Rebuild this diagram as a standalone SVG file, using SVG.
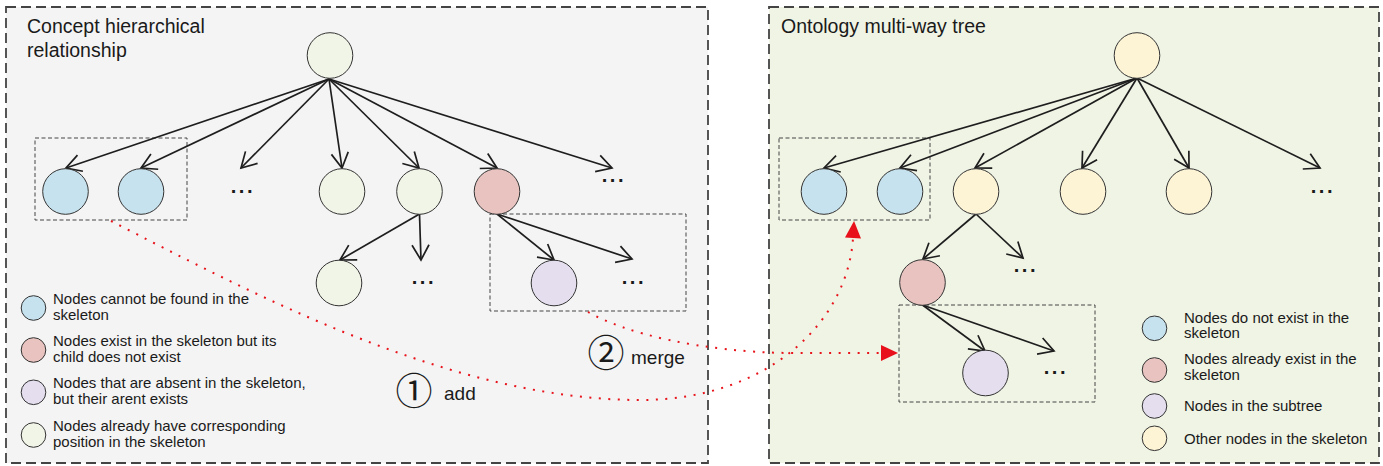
<svg xmlns="http://www.w3.org/2000/svg" width="1383" height="466" viewBox="0 0 1383 466">
  <defs>
    <style>
      .panel { stroke: #444; stroke-width: 1.8; stroke-dasharray: 10 5; }
      .box { fill: none; stroke: #444; stroke-width: 1; stroke-dasharray: 4 2.5; }
      .node { stroke: #333; stroke-width: 1; }
      .blue { fill: #c6e2ee; }
      .pink { fill: #e8c3bf; }
      .purple { fill: #e4deee; }
      .green { fill: #f1f5e7; }
      .yellow { fill: #fdf4d6; }
      .edge { fill: none; stroke: #1e1e1e; stroke-width: 1.7; marker-end: url(#open); }
      .flow { fill: none; stroke: #e8141c; stroke-width: 2; stroke-dasharray: 2 7.5; marker-end: url(#solid); }
      .title { font-family: "Liberation Sans", Arial, sans-serif; font-size: 19.5px; fill: #1a1a1a; }
      .legend { font-family: "Liberation Sans", Arial, sans-serif; font-size: 15px; fill: #1a1a1a; }
      .step { font-family: "Liberation Sans", Arial, sans-serif; font-size: 19px; fill: #1a1a1a; }
      .num { font-family: "DejaVu Serif", "Noto Sans CJK SC", serif; font-size: 37px; fill: #1a1a1a; }
      .dots { font-family: "DejaVu Sans", sans-serif; font-size: 16px; font-weight: bold; letter-spacing: 2px; fill: #1a1a1a; }
    </style>
    <marker id="open" markerUnits="userSpaceOnUse" markerWidth="20" markerHeight="20" orient="auto" overflow="visible">
      <path d="M-15,-8.5 L0,0 L-15,8.5" fill="none" stroke="#1e1e1e" stroke-width="1.7" stroke-linejoin="miter"/>
    </marker>
    <marker id="solid" markerUnits="userSpaceOnUse" markerWidth="20" markerHeight="20" orient="auto" overflow="visible">
      <path d="M0,-8 L17,0 L0,8 z" fill="#e8101a"/>
    </marker>
  </defs>

  <!-- panels -->
  <g id="panel-concept">
    <rect class="panel" x="6" y="7" width="702" height="456" fill="#f4f4f4"/>
    <text class="title" x="27" y="33">Concept hierarchical</text>
    <text class="title" x="27" y="57">relationship</text>
  </g>
  <g id="panel-ontology">
    <rect class="panel" x="769" y="7" width="610" height="456" fill="#f0f4e5"/>
    <text class="title" x="781" y="33">Ontology multi-way tree</text>
  </g>

  <!-- dashed selection boxes -->
  <g id="boxes">
    <rect class="box" x="35" y="138" width="152" height="82"/>
    <rect class="box" x="490" y="214" width="196" height="97"/>
    <rect class="box" x="779" y="138" width="151" height="82"/>
    <rect class="box" x="899" y="305" width="196" height="97"/>
  </g>

  <!-- tree edges -->
  <g id="connectors">
    <path class="edge" d="M329,79 L66,168"/>
    <path class="edge" d="M329,79 L141,168"/>
    <path class="edge" d="M329,79 L241,168"/>
    <path class="edge" d="M329,79 L342,168"/>
    <path class="edge" d="M329,79 L419,168"/>
    <path class="edge" d="M329,79 L497,168"/>
    <path class="edge" d="M329,79 L612,168"/>
    <path class="edge" d="M419.5,214 L340,260"/>
    <path class="edge" d="M419.5,214 L421,260"/>
    <path class="edge" d="M497,214 L554,260"/>
    <path class="edge" d="M497,214 L632,259"/>

    <path class="edge" d="M1137,78 L824,168"/>
    <path class="edge" d="M1137,78 L900,168"/>
    <path class="edge" d="M1137,78 L975,168"/>
    <path class="edge" d="M1137,78 L1082,168"/>
    <path class="edge" d="M1137,78 L1189,168"/>
    <path class="edge" d="M1137,78 L1320,168"/>
    <path class="edge" d="M976,214 L923,259"/>
    <path class="edge" d="M976,214 L1023,258"/>
    <path class="edge" d="M922.5,305 L985,351"/>
    <path class="edge" d="M922.5,305 L1054,351"/>

    <!-- dotted flows between panels -->
    <path class="flow" d="M111,221 C250,292 450,400 640,400 C770,400 848,320 853,238"/>
    <path class="flow" d="M588,312 C625,333 700,352 790,353 L881,353"/>
  </g>

  <!-- left tree nodes -->
  <g id="c-root"><circle class="node green" cx="330" cy="55.5" r="22.8"/></g>
  <g id="c-blue-1"><circle class="node blue" cx="65.5" cy="191.5" r="22.8"/></g>
  <g id="c-blue-2"><circle class="node blue" cx="141" cy="191.5" r="22.8"/></g>
  <g id="c-more-1"><text class="dots" x="230.5" y="192.5">...</text></g>
  <g id="c-green-1"><circle class="node green" cx="342" cy="191.5" r="22.8"/></g>
  <g id="c-green-2"><circle class="node green" cx="419.5" cy="191.5" r="22.8"/></g>
  <g id="c-pink"><circle class="node pink" cx="497" cy="191.5" r="22.8"/></g>
  <g id="c-more-2"><text class="dots" x="601.5" y="182">...</text></g>
  <g id="c-green-3"><circle class="node green" cx="339" cy="283" r="22.8"/></g>
  <g id="c-more-3"><text class="dots" x="411.5" y="284">...</text></g>
  <g id="c-purple"><circle class="node purple" cx="554" cy="283" r="22.8"/></g>
  <g id="c-more-4"><text class="dots" x="621.5" y="284">...</text></g>

  <!-- right tree nodes -->
  <g id="o-root"><circle class="node yellow" cx="1137" cy="55.5" r="22.8"/></g>
  <g id="o-blue-1"><circle class="node blue" cx="824" cy="191.5" r="22.8"/></g>
  <g id="o-blue-2"><circle class="node blue" cx="900" cy="191.5" r="22.8"/></g>
  <g id="o-yellow-1"><circle class="node yellow" cx="976" cy="191.5" r="22.8"/></g>
  <g id="o-yellow-2"><circle class="node yellow" cx="1083" cy="191.5" r="22.8"/></g>
  <g id="o-yellow-3"><circle class="node yellow" cx="1189" cy="191.5" r="22.8"/></g>
  <g id="o-more-1"><text class="dots" x="1310.5" y="192.5">...</text></g>
  <g id="o-pink"><circle class="node pink" cx="922.5" cy="282.5" r="22.8"/></g>
  <g id="o-more-2"><text class="dots" x="1013.5" y="272">...</text></g>
  <g id="o-purple"><circle class="node purple" cx="985.5" cy="373" r="22.8"/></g>
  <g id="o-more-3"><text class="dots" x="1043.5" y="374">...</text></g>

  <!-- step labels -->
  <g id="step-add">
    <text class="num" x="414" y="405" text-anchor="middle">①</text>
    <text class="step" x="444" y="400">add</text>
  </g>
  <g id="step-merge">
    <text class="num" x="606" y="367" text-anchor="middle">②</text>
    <text class="step" x="631" y="364">merge</text>
  </g>

  <!-- left legend -->
  <g id="legend-left">
    <circle class="node blue" cx="33.5" cy="308" r="12.3"/>
    <text class="legend" x="53" y="304">Nodes cannot be found in the</text>
    <text class="legend" x="53" y="319.5">skeleton</text>
    <circle class="node pink" cx="33.5" cy="350" r="12.3"/>
    <text class="legend" x="53" y="346">Nodes exist in the skeleton but its</text>
    <text class="legend" x="53" y="361.5">child does not exist</text>
    <circle class="node purple" cx="33.5" cy="392.3" r="12.3"/>
    <text class="legend" x="53" y="388">Nodes that are absent in the skeleton,</text>
    <text class="legend" x="53" y="403.5">but their arent exists</text>
    <circle class="node green" cx="33.5" cy="435" r="12.3"/>
    <text class="legend" x="53" y="431">Nodes already have corresponding</text>
    <text class="legend" x="53" y="446.5">position in the skeleton</text>
  </g>

  <!-- right legend -->
  <g id="legend-right">
    <circle class="node blue" cx="1154.5" cy="328.3" r="12.3"/>
    <text class="legend" x="1184" y="322.7">Nodes do not exist in the</text>
    <text class="legend" x="1184" y="338">skeleton</text>
    <circle class="node pink" cx="1154.5" cy="370" r="12.3"/>
    <text class="legend" x="1184" y="364">Nodes already exist in the</text>
    <text class="legend" x="1184" y="379.5">skeleton</text>
    <circle class="node purple" cx="1154.5" cy="406" r="12.3"/>
    <text class="legend" x="1184" y="410.5">Nodes in the subtree</text>
    <circle class="node yellow" cx="1154.5" cy="438.3" r="12.3"/>
    <text class="legend" x="1184" y="443.5">Other nodes in the skeleton</text>
  </g>
</svg>
